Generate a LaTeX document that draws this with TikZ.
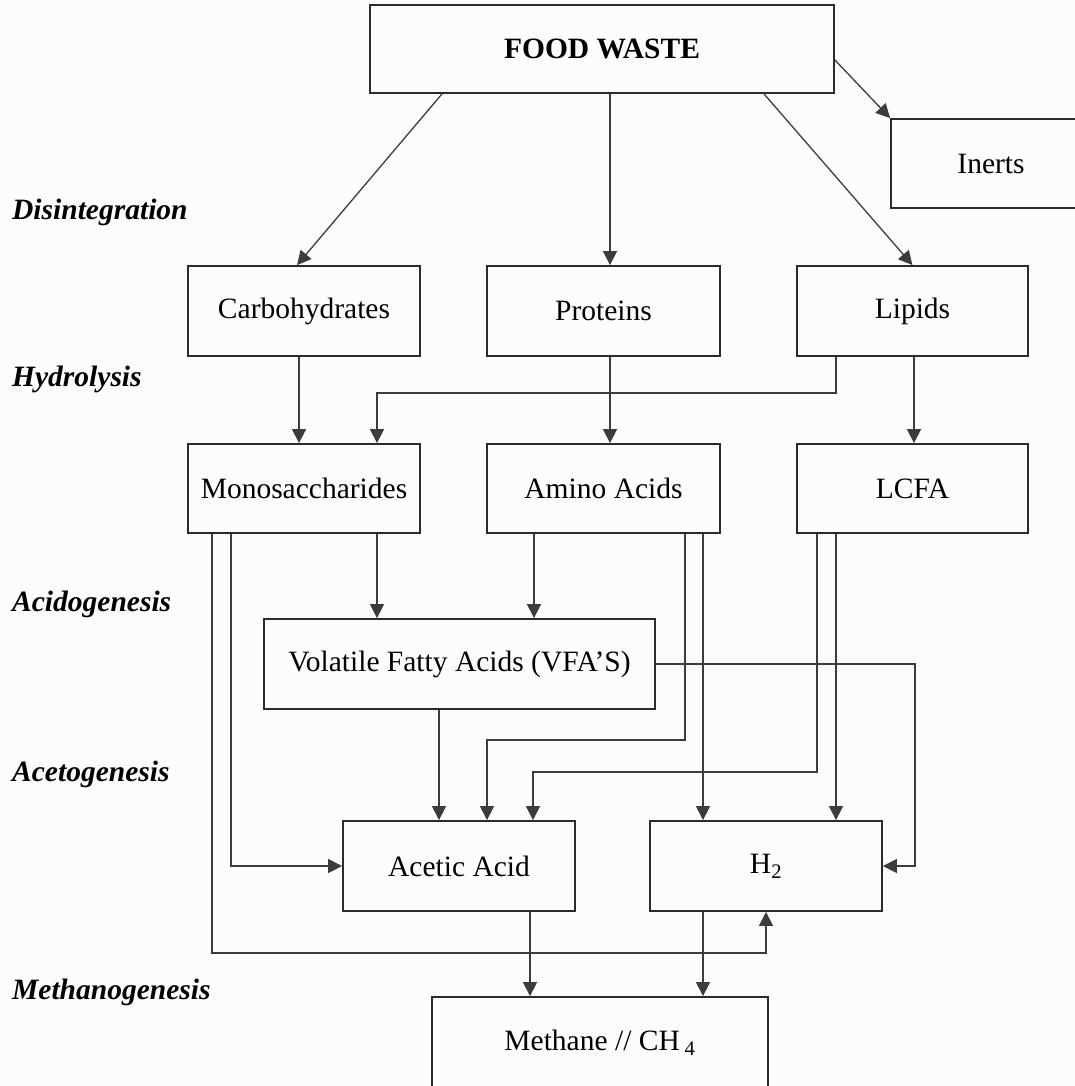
\documentclass[tikz,border=0pt]{standalone}
\usepackage{fontspec}
\setmainfont{Liberation Serif}
\usetikzlibrary{arrows.meta,calc}
\definecolor{boxc}{HTML}{2B2B2B}
\definecolor{linec}{HTML}{3C3C3C}
\definecolor{bgc}{HTML}{FCFCFC}
\tikzset{
  box/.style={draw=boxc, line width=1.8pt, inner sep=0pt, text=black,
    font=\fontsize{29.5}{34}\selectfont},
  conn/.style={draw=linec, line width=1.3pt},
  arr/.style={conn, -{Triangle[length=14pt,width=14pt]}},
  stage/.style={anchor=base west, inner sep=0pt, text=black,
    font=\fontsize{29.5}{34}\selectfont\bfseries\itshape},
}
\begin{document}
\begin{tikzpicture}[x=1pt,y=-1pt]
\useasboundingbox (0,0) rectangle (1075,1086);
\fill[bgc] (0,0) rectangle (1075,1086);

% boxes
\node[box, minimum width=464pt, minimum height=88pt] (fw) at (602,49) {\bfseries FOOD WASTE};
\node[box, minimum width=200pt, minimum height=89pt] (inerts) at (991,163.5) {Inerts};
\node[box, minimum width=232pt, minimum height=90pt] (carb) at (304,311) {Carbohydrates};
\node[box, minimum width=233pt, minimum height=90pt] (prot) at (603.5,311) {Proteins};
\node[box, minimum width=231pt, minimum height=90pt] (lip) at (912.5,311) {Lipids};
\node[box, minimum width=232pt, minimum height=89pt] (mono) at (304,488.5) {Monosaccharides};
\node[box, minimum width=233pt, minimum height=89pt] (amino) at (603.5,488.5) {Amino Acids};
\node[box, minimum width=231pt, minimum height=89pt] (lcfa) at (912.5,488.5) {LCFA};
\node[box, minimum width=391pt, minimum height=90pt] (vfa) at (459.5,664) {Volatile Fatty Acids (VFA’S)};
\node[box, minimum width=232pt, minimum height=90pt] (acetic) at (459,866) {Acetic Acid};
\node[box, minimum width=232pt, minimum height=90pt] (h2) at (766,866) {H\textsubscript{2}};
\node[box, minimum width=336pt, minimum height=91pt] (methane) at (600,1042.5) {Methane // CH\,\textsubscript{4}};

% stage labels
\node[stage] (s1) at (12,219) {Disintegration};
\node[stage] (s2) at (12,386) {Hydrolysis};
\node[stage] (s3) at (12,611) {Acidogenesis};
\node[stage] (s4) at (12,781) {Acetogenesis};
\node[stage] (s5) at (12,999) {Methanogenesis};

% disintegration
\draw[arr] ($(fw.south)+(-160,0)$) -- ($(carb.north)+(-7,0)$);
\draw[arr] ($(fw.south)+(8,0)$) -- ($(prot.north)+(6.5,0)$);
\draw[arr] ($(fw.south)+(162,0)$) -- (lip.north);
\draw[arr] ($(fw.east)+(0,11)$) -- (inerts.north west);

% hydrolysis
\draw[arr] ($(carb.south)+(-5,0)$) -- ($(mono.north)+(-5,0)$);
\draw[arr] ($(lip.south)+(-76.5,0)$) -- ++(0,36) -| ($(mono.north)+(73,0)$);
\draw[arr] ($(prot.south)+(6.5,0)$) -- ($(amino.north)+(6.5,0)$);
\draw[arr] ($(lip.south)+(1.5,0)$) -- ($(lcfa.north)+(1.5,0)$);

% acidogenesis
\draw[arr] ($(mono.south)+(73,0)$) -- ($(vfa.north)+(-82.5,0)$);
\draw[arr] ($(amino.south)+(-69.5,0)$) -- ($(vfa.north)+(74.5,0)$);

% acetogenesis
\draw[arr] ($(vfa.south)+(-20.5,0)$) -- ($(acetic.north)+(-20,0)$);
\draw[arr] ($(amino.south)+(81.5,0)$) -- ++(0,206) -| ($(acetic.north)+(28,0)$);
\draw[arr] ($(lcfa.south)+(-95.5,0)$) -- ++(0,238) -| ($(acetic.north)+(74,0)$);
\draw[arr] ($(mono.south)+(-73,0)$) |- (acetic.west);
\draw[arr] ($(amino.south)+(99.5,0)$) -- ($(h2.north)+(-63,0)$);
\draw[arr] ($(lcfa.south)+(-76.5,0)$) -- ($(h2.north)+(70,0)$);
\draw[arr] (vfa.east) -| ($(h2.east)+(32,0)$) -- (h2.east);
\draw[arr] ($(mono.south)+(-92,0)$) -- ++(0,419) -| (h2.south);

% methanogenesis
\draw[arr] ($(acetic.south)+(71,0)$) -- ($(methane.north)+(-70,0)$);
\draw[arr] ($(h2.south)+(-63,0)$) -- ($(methane.north)+(103,0)$);
\end{tikzpicture}
\end{document}
